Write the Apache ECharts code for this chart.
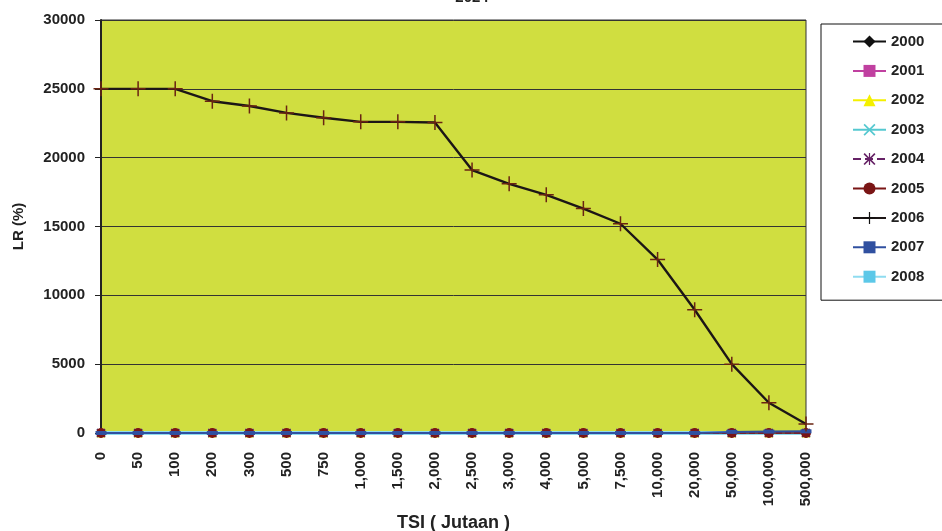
<!DOCTYPE html>
<html><head><meta charset="utf-8">
<script src="https://cdn.jsdelivr.net/npm/echarts@6/dist/echarts.min.js"></script>
<style>html,body{margin:0;padding:0;background:#fff}#c{width:942px;height:531px}</style>
</head><body><div id="c"></div>
<script>
const categories = ['0','50','100','200','300','500','750','1,000','1,500','2,000','2,500','3,000','4,000','5,000','7,500','10,000','20,000','50,000','100,000','500,000'];
const yTicks = [0, 5000, 10000, 15000, 20000, 25000, 30000];
const zeros = [0,0,0,0,0,0,0,0,0,0,0,0,0,0,0,0,0,0,0,0];
const s2000 = zeros.slice();
const s2001 = zeros.slice();
const s2002 = zeros.slice();
const s2003 = zeros.slice();
const s2004 = zeros.slice();
const s2005 = zeros.slice();
const s2006 = [25000,25000,25000,24100,23750,23250,22900,22600,22600,22550,19100,18100,17300,16300,15200,12600,8950,5000,2200,650];
const s2007 = [0,0,0,0,0,0,0,0,0,0,0,0,0,0,0,0,0,80,100,120];
const s2008 = zeros.slice();

const plusPath = 'path://M4.5,0H5.5V4.5H10V5.5H5.5V10H4.5V5.5H0V4.5H4.5Z';
const xPath = 'path://M1,0L5,4L9,0L10,1L6,5L10,9L9,10L5,6L1,10L0,9L4,5L0,1Z';
const starPath = 'path://M1,0L5,4L9,0L10,1L6,5L10,9L9,10L5,6L1,10L0,9L4,5L0,1ZM4.5,0H5.5V10H4.5Z';
const FONT = 'Liberation Sans';

function mk(name, data, color, symbol, size, lineType, width, extra) {
  return Object.assign({
    name, type: 'line', data, symbol, symbolSize: size, clip: false,
    lineStyle: { color, width: width || 1.5, type: lineType || 'solid' },
    itemStyle: { color }, showSymbol: true, animation: false
  }, extra || {});
}

const series = [
  mk('2008', s2008, '#8fdcf0', 'rect', 6, 'solid', 4),
  mk('2000', s2000, '#111111', 'diamond', 9),
  mk('2001', s2001, '#c040a0', 'rect', 8),
  mk('2002', s2002, '#f4f000', 'triangle', 9),
  mk('2003', s2003, '#55c8d0', xPath, 9),
  mk('2004', s2004, '#662266', starPath, 9, 'dashed'),
  mk('2005', s2005, '#7a1515', 'circle', 10),
  mk('2007', s2007, '#3050a0', 'rect', [11, 4], 'solid', 2),
  mk('2006', s2006, '#1c1616', plusPath, 15, 'solid', 2.4, {
    itemStyle: { color: '#6a2412' }, z: 5
  })
];

const legendColors = {
  '2000':'#111111','2001':'#c040a0','2002':'#f4f000','2003':'#55c8d0','2004':'#662266',
  '2005':'#7a1515','2006':'#111111','2007':'#3050a0','2008':'#5cc8e8'
};
const legendOrder = ['2000','2001','2002','2003','2004','2005','2006','2007','2008'];

const chart = echarts.init(document.getElementById('c'), null, { renderer: 'canvas' });
chart.setOption({
  backgroundColor: '#ffffff',
  title: {
    text: '2024', left: 467, top: -15, textAlign: 'center',
    textStyle: { fontFamily: FONT, fontWeight: 'bold', fontSize: 15, color: '#222' }
  },
  grid: { left: 101, right: 136, top: 20, bottom: 98, outerBoundsMode: 'none', containLabel: false,
    show: true, backgroundColor: '#d0de40', borderColor: '#333', borderWidth: 1 },
  legend: {
    orient: 'vertical', left: 821, top: 24,
    padding: [10, 30, 16, 31],
    itemWidth: 33, itemHeight: 15, itemGap: 14.4,
    borderColor: '#111', borderWidth: 1, backgroundColor: '#fff',
    textStyle: { fontFamily: FONT, fontWeight: 'bold', fontSize: 15, color: '#222' },
    data: legendOrder.map(n => ({ name: n, itemStyle: { color: legendColors[n] } }))
  },
  xAxis: {
    type: 'category', data: categories, boundaryGap: false,
    name: 'TSI ( Jutaan )', nameLocation: 'middle', nameGap: 78,
    nameTextStyle: { fontFamily: FONT, fontWeight: 'bold', fontSize: 18, color: '#222' },
    axisLine: { show: false },
    axisTick: { show: false },
    axisLabel: { rotate: 90, margin: 19, interval: 0, fontFamily: FONT, fontWeight: 'bold', fontSize: 15, color: '#222' },
    splitLine: { show: false }
  },
  yAxis: {
    type: 'value', min: 0, max: 30000, interval: 5000,
    name: 'LR (%)', nameLocation: 'middle', nameGap: 75,
    nameTextStyle: { fontFamily: FONT, fontWeight: 'bold', fontSize: 15, color: '#222' },
    axisLine: { show: true, lineStyle: { color: '#222', width: 2 } },
    axisTick: { show: true, length: 6, lineStyle: { color: '#222' } },
    axisLabel: { margin: 16, fontFamily: FONT, fontWeight: 'bold', fontSize: 15, color: '#222',
      formatter: v => yTicks.indexOf(v) >= 0 ? String(v) : '' },
    splitLine: { show: true, lineStyle: { color: '#333', width: 1 } }
  },
  series
});
</script></body></html>
